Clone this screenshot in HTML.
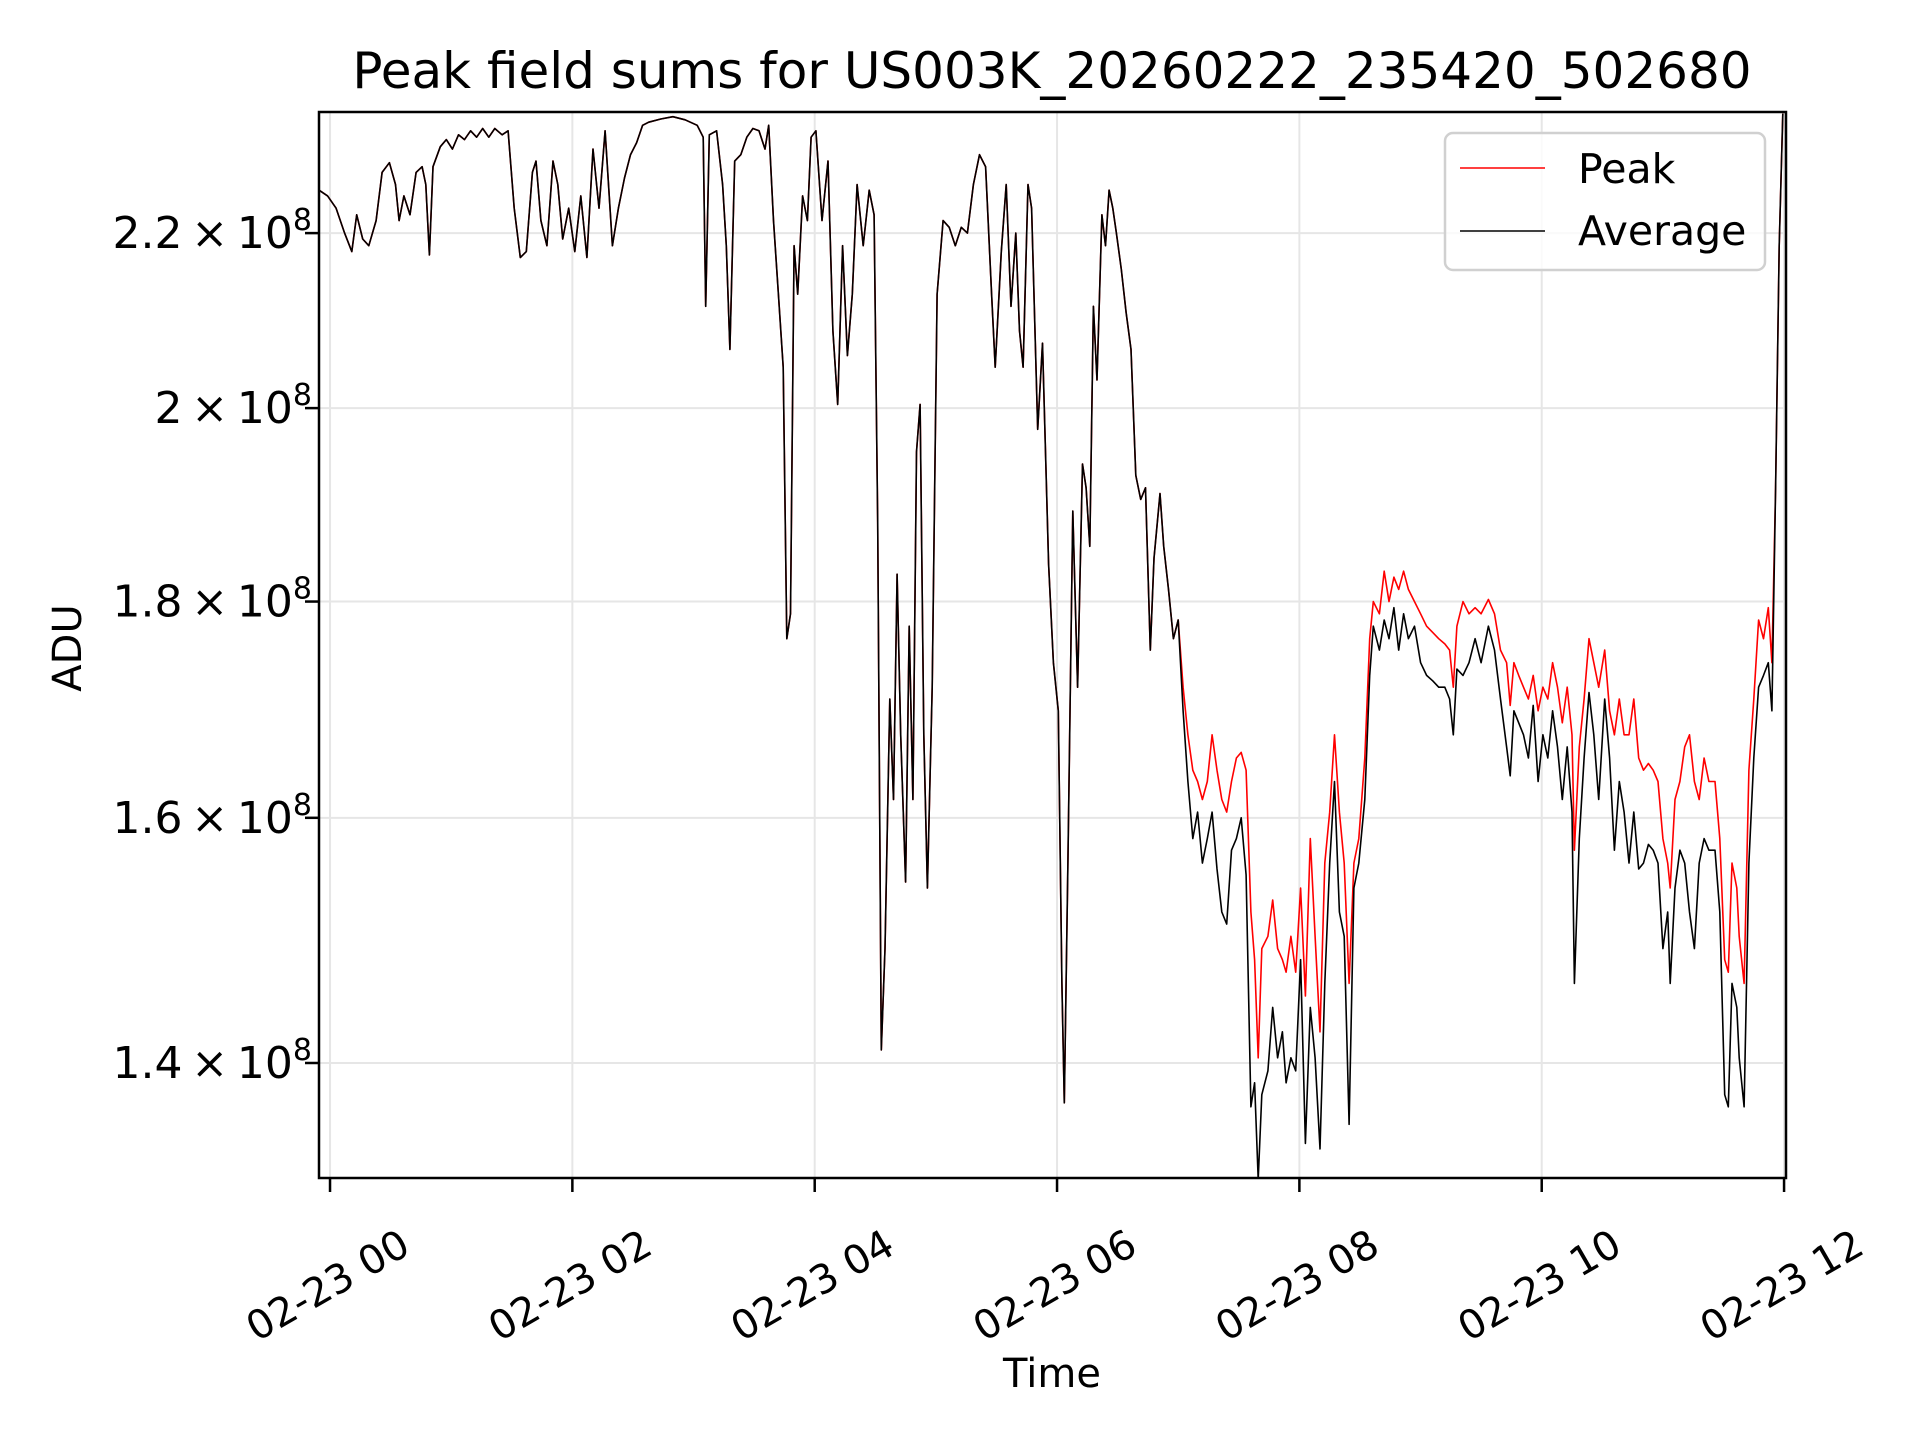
<!DOCTYPE html>
<html><head><meta charset="utf-8"><style>
html,body{margin:0;padding:0;background:#fff}
svg{display:block;font-family:"DejaVu Sans","Liberation Sans",sans-serif}
</style></head><body>
<svg id="chart" width="1920" height="1440" viewBox="0 0 1920 1440" xmlns="http://www.w3.org/2000/svg">
<rect width="1920" height="1440" fill="#fff"/>
<text x="1052" y="88" font-size="50" text-anchor="middle" fill="#000">Peak field sums for US003K_20260222_235420_502680</text>
<g id="grid"></g>
<g id="series"></g>
<rect x="319" y="112" width="1467" height="1066" fill="none" stroke="#000" stroke-width="2.5"/>
<g id="axes"></g>
<text x="1052" y="1387" font-size="40" text-anchor="middle">Time</text>
<text x="0" y="0" font-size="40" text-anchor="middle" transform="translate(81,648) rotate(-90)">ADU</text>
<g>
<rect x="1445" y="133" width="320" height="137" rx="8" fill="#fff" fill-opacity="0.8" stroke="#d0d0d0" stroke-width="2.5"/>
<line x1="1460" y1="168" x2="1545" y2="168" stroke="#f00" stroke-width="1.6"/>
<text x="1578" y="183" font-size="41">Peak</text>
<line x1="1460" y1="231" x2="1545" y2="231" stroke="#000" stroke-width="1.6"/>
<text x="1578" y="245" font-size="41">Average</text>
</g>
</svg>
<script>
const xTickHours=[0,2,4,6,8,10,12];
const xTickLabels=["02-23 00","02-23 02","02-23 04","02-23 06","02-23 08","02-23 10","02-23 12"];
const yTickValues=[1.4,1.6,1.8,2.0,2.2];
const yTickMantissas=["1.4","1.6","1.8","2","2.2"];
const avgTimes=[-0.09,-0.02,0.05,0.12,0.18,0.22,0.27,0.32,0.38,0.43,0.49,0.54,0.57,0.61,0.66,0.71,0.76,0.79,0.82,0.85,0.91,0.96,1.01,1.06,1.11,1.16,1.21,1.26,1.31,1.36,1.42,1.47,1.52,1.57,1.62,1.67,1.70,1.74,1.79,1.84,1.88,1.92,1.97,2.02,2.07,2.12,2.17,2.22,2.27,2.33,2.38,2.43,2.48,2.53,2.58,2.63,2.73,2.83,2.93,3.03,3.08,3.10,3.13,3.19,3.24,3.27,3.30,3.34,3.39,3.44,3.49,3.54,3.59,3.62,3.66,3.70,3.74,3.77,3.80,3.83,3.86,3.90,3.94,3.97,4.01,4.06,4.11,4.15,4.19,4.23,4.27,4.31,4.35,4.40,4.45,4.49,4.52,4.55,4.58,4.62,4.65,4.68,4.71,4.75,4.78,4.81,4.84,4.87,4.90,4.93,4.97,5.01,5.06,5.11,5.16,5.21,5.26,5.31,5.36,5.41,5.46,5.49,5.54,5.58,5.62,5.66,5.69,5.72,5.76,5.79,5.84,5.88,5.93,5.97,6.01,6.04,6.06,6.09,6.13,6.17,6.21,6.24,6.27,6.30,6.33,6.37,6.40,6.43,6.46,6.49,6.53,6.57,6.61,6.65,6.69,6.73,6.77,6.80,6.85,6.88,6.92,6.96,7.00,7.04,7.08,7.12,7.16,7.20,7.24,7.28,7.32,7.36,7.40,7.44,7.48,7.52,7.56,7.60,7.63,7.66,7.69,7.74,7.78,7.82,7.86,7.89,7.93,7.97,8.01,8.05,8.09,8.13,8.17,8.21,8.25,8.29,8.33,8.37,8.41,8.45,8.49,8.54,8.58,8.61,8.66,8.70,8.74,8.78,8.82,8.86,8.90,8.95,9.00,9.05,9.10,9.15,9.20,9.24,9.27,9.30,9.35,9.40,9.45,9.50,9.56,9.61,9.66,9.71,9.74,9.77,9.81,9.85,9.89,9.93,9.97,10.01,10.05,10.09,10.13,10.17,10.21,10.25,10.27,10.31,10.35,10.39,10.43,10.47,10.52,10.56,10.60,10.64,10.68,10.72,10.76,10.80,10.84,10.88,10.92,10.96,11.00,11.04,11.06,11.10,11.14,11.18,11.22,11.26,11.30,11.34,11.38,11.43,11.47,11.51,11.54,11.57,11.61,11.63,11.67,11.71,11.75,11.79,11.83,11.87,11.90,11.93,11.96,11.99];
const avgValues=[2.252,2.245,2.230,2.200,2.178,2.222,2.193,2.185,2.215,2.274,2.286,2.259,2.215,2.245,2.222,2.274,2.281,2.259,2.174,2.281,2.306,2.315,2.303,2.321,2.315,2.326,2.318,2.329,2.318,2.329,2.321,2.326,2.230,2.171,2.178,2.274,2.288,2.215,2.185,2.288,2.259,2.193,2.230,2.178,2.245,2.171,2.303,2.230,2.326,2.185,2.230,2.267,2.296,2.311,2.333,2.337,2.341,2.344,2.340,2.333,2.318,2.114,2.321,2.326,2.259,2.185,2.065,2.288,2.296,2.318,2.329,2.326,2.303,2.333,2.215,2.128,2.045,1.764,1.788,2.185,2.128,2.245,2.215,2.318,2.326,2.215,2.288,2.086,2.004,2.185,2.058,2.128,2.259,2.185,2.252,2.222,1.879,1.410,1.490,1.707,1.616,1.827,1.674,1.545,1.776,1.616,1.953,2.004,1.674,1.540,1.718,2.128,2.215,2.207,2.185,2.207,2.200,2.259,2.296,2.281,2.128,2.045,2.178,2.259,2.114,2.200,2.086,2.045,2.259,2.230,1.977,2.072,1.837,1.741,1.696,1.462,1.370,1.561,1.891,1.718,1.940,1.915,1.855,2.114,2.031,2.222,2.185,2.252,2.230,2.200,2.157,2.107,2.065,1.928,1.903,1.915,1.753,1.843,1.909,1.855,1.812,1.764,1.782,1.696,1.632,1.582,1.605,1.561,1.582,1.605,1.556,1.520,1.510,1.572,1.582,1.600,1.551,1.367,1.385,1.314,1.376,1.394,1.443,1.404,1.424,1.385,1.404,1.394,1.481,1.340,1.443,1.404,1.336,1.462,1.561,1.632,1.520,1.500,1.354,1.540,1.561,1.616,1.729,1.776,1.753,1.782,1.764,1.794,1.753,1.788,1.764,1.776,1.741,1.729,1.724,1.718,1.718,1.707,1.674,1.735,1.729,1.741,1.764,1.741,1.776,1.753,1.707,1.663,1.637,1.696,1.685,1.674,1.653,1.701,1.632,1.674,1.653,1.696,1.663,1.616,1.663,1.605,1.462,1.582,1.653,1.713,1.674,1.616,1.707,1.653,1.572,1.632,1.605,1.561,1.605,1.556,1.561,1.577,1.572,1.561,1.490,1.520,1.462,1.540,1.572,1.561,1.520,1.490,1.561,1.582,1.572,1.572,1.520,1.376,1.367,1.462,1.443,1.404,1.367,1.561,1.653,1.718,1.729,1.741,1.696,1.915,2.185,2.348];
const peakTailTimes=[7.04,7.08,7.12,7.16,7.20,7.24,7.28,7.32,7.36,7.40,7.44,7.48,7.52,7.56,7.60,7.63,7.66,7.69,7.74,7.78,7.82,7.86,7.89,7.93,7.97,8.01,8.05,8.09,8.13,8.17,8.21,8.25,8.29,8.33,8.37,8.41,8.45,8.49,8.54,8.58,8.61,8.66,8.70,8.74,8.78,8.82,8.86,8.90,8.95,9.00,9.05,9.10,9.15,9.20,9.24,9.27,9.30,9.35,9.40,9.45,9.50,9.56,9.61,9.66,9.71,9.74,9.77,9.81,9.85,9.89,9.93,9.97,10.01,10.05,10.09,10.13,10.17,10.21,10.25,10.27,10.31,10.35,10.39,10.43,10.47,10.52,10.56,10.60,10.64,10.68,10.72,10.76,10.80,10.84,10.88,10.92,10.96,11.00,11.04,11.06,11.10,11.14,11.18,11.22,11.26,11.30,11.34,11.38,11.43,11.47,11.51,11.54,11.57,11.61,11.63,11.67,11.71,11.75,11.79,11.83,11.87,11.90,11.93,11.96,11.99];
const peakTailValues=[1.718,1.674,1.642,1.632,1.616,1.632,1.674,1.642,1.616,1.605,1.632,1.653,1.658,1.642,1.520,1.481,1.404,1.490,1.500,1.530,1.490,1.481,1.471,1.500,1.471,1.540,1.452,1.582,1.500,1.424,1.561,1.605,1.674,1.605,1.561,1.462,1.561,1.582,1.653,1.764,1.800,1.788,1.830,1.800,1.824,1.812,1.830,1.812,1.800,1.788,1.776,1.770,1.764,1.759,1.753,1.718,1.776,1.800,1.788,1.794,1.788,1.802,1.788,1.753,1.741,1.701,1.741,1.729,1.718,1.707,1.729,1.696,1.718,1.707,1.741,1.718,1.685,1.718,1.674,1.572,1.663,1.707,1.764,1.741,1.718,1.753,1.696,1.674,1.707,1.674,1.674,1.707,1.653,1.642,1.648,1.642,1.632,1.582,1.561,1.540,1.616,1.632,1.663,1.674,1.632,1.616,1.653,1.632,1.632,1.582,1.481,1.471,1.561,1.540,1.500,1.462,1.642,1.707,1.782,1.764,1.794,1.741,1.915,2.185,2.348];

const L=319,R=1786,T=112,B=1178,XMIN=-0.091,XMAX=12.016,YMAX=2.350,YMIN=1.315;
const NS="http://www.w3.org/2000/svg";
function xs(h){return L+(h-XMIN)/(XMAX-XMIN)*(R-L);}
function ys(v){return T+(Math.log(YMAX)-Math.log(v))/(Math.log(YMAX)-Math.log(YMIN))*(B-T);}
function mk(tag,attrs,parent){const e=document.createElementNS(NS,tag);for(const k in attrs)e.setAttribute(k,attrs[k]);parent.appendChild(e);return e;}
const grid=document.getElementById('grid'),axes=document.getElementById('axes'),series=document.getElementById('series');
xTickHours.forEach((h,i)=>{
  const x=xs(h);
  const g=mk('line',{x1:x,y1:T,x2:x,y2:B,stroke:'#e6e6e6','stroke-width':2},grid);
  
  
  const t=mk('line',{x1:x,y1:B,x2:x,y2:B+14,stroke:'#000','stroke-width':2.5},axes);
  
  
  const lb=mk('text',{x:0,y:0,'font-size':40,'text-anchor':'middle','dominant-baseline':'central',transform:`translate(${x-2},${B+108}) rotate(-30)`},axes);
  lb.textContent=xTickLabels[i];
  
  
});
yTickValues.forEach((v,i)=>{
  const y=ys(v);
  const g=mk('line',{x1:L,y1:y,x2:R,y2:y,stroke:'#e6e6e6','stroke-width':2},grid);
  
  
  const t=mk('line',{x1:L-14,y1:y,x2:L,y2:y,stroke:'#000','stroke-width':2.5},axes);
  
  
  const lb=mk('text',{x:312,y:y+15,'font-size':44,'text-anchor':'end'},axes);
  
  
  const a=mk('tspan',{},lb);a.textContent=yTickMantissas[i]+"\u2009\u00d7\u200910";
  const s=mk('tspan',{dy:-18,'font-size':30},lb);s.textContent="8";
});
function path(ts,vs){return ts.map((t,i)=>(i?'L':'M')+xs(t).toFixed(1)+','+ys(vs[i]).toFixed(1)).join('');}
const peakTimes=[],peakValues=[];
avgTimes.forEach((t,i)=>{if(t<peakTailTimes[0]){peakTimes.push(t);peakValues.push(avgValues[i]);}});
peakTailTimes.forEach((t,i)=>{peakTimes.push(t);peakValues.push(peakTailValues[i]);});
const cp=mk('clipPath',{id:'clip'},series);mk('rect',{x:L,y:T,width:R-L,height:B-T},cp);
const pk=mk('path',{d:path(peakTimes,peakValues),fill:'none',stroke:'#f00','stroke-width':1.6,'stroke-linejoin':'round','clip-path':'url(#clip)'},series);


const av=mk('path',{d:path(avgTimes,avgValues),fill:'none',stroke:'#000','stroke-width':1.6,'stroke-linejoin':'round','clip-path':'url(#clip)'},series);


</script>
</body></html>
